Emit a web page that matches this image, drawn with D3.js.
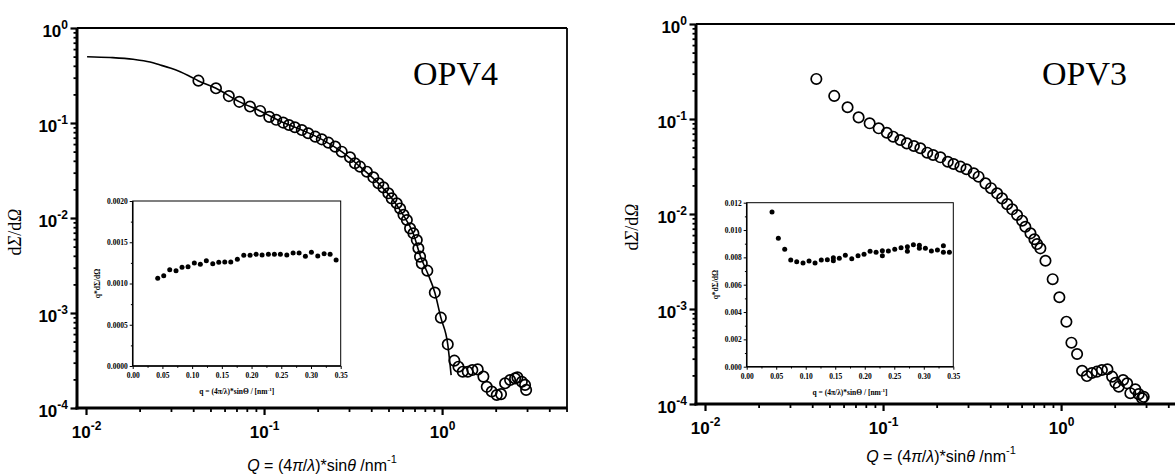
<!DOCTYPE html>
<html>
<head>
<meta charset="utf-8">
<script src="https://cdn.jsdelivr.net/npm/d3@7/dist/d3.min.js"></script>
<style>
  body { margin: 0; background: #fff; }
</style>
</head>
<body>
<div id="chart"></div>
<script>
// ---- OPV4 main scattering curve (Q in nm^-1, dSigma/dOmega)
var opv4Q = [0.0428, 0.0537, 0.0634, 0.0726, 0.0834, 0.0951, 0.107, 0.117, 0.128, 0.138,
  0.149, 0.163, 0.177, 0.194, 0.211, 0.230, 0.251, 0.273, 0.304, 0.324,
  0.346, 0.378, 0.411, 0.439, 0.468, 0.499, 0.521, 0.556, 0.581, 0.607,
  0.634, 0.661, 0.690, 0.721, 0.736, 0.752, 0.769, 0.826, 0.910, 0.984,
  1.076, 1.172, 1.236, 1.306, 1.393, 1.479, 1.585, 1.706, 1.782, 1.901,
  2.028, 2.143, 2.259, 2.410, 2.570, 2.649, 2.805, 2.924, 2.965]
var opv4I = [0.279, 0.232, 0.192, 0.167, 0.149, 0.134, 0.116, 0.108, 0.101, 0.0953,
  0.0902, 0.0843, 0.0780, 0.0718, 0.0673, 0.0621, 0.0564, 0.0499, 0.0436, 0.0377,
  0.0347, 0.0307, 0.0268, 0.0232, 0.0210, 0.0182, 0.0161, 0.0143, 0.0126, 0.0108,
  0.00953, 0.00778, 0.00690, 0.00586, 0.00480, 0.00392, 0.00333, 0.00279, 0.00164, 0.000893,
  0.000468, 0.000315, 0.000272, 0.000241, 0.000241, 0.000251, 0.000255, 0.000214, 0.000167, 0.000149,
  0.000137, 0.000140, 0.000182, 0.000197, 0.000205, 0.000210, 0.000189, 0.000175, 0.000155]

// fitted curve for OPV4
var opv4FitQ = [0.01014, 0.01365, 0.01837, 0.0229, 0.0261, 0.0297, 0.0338, 0.0384, 0.0426,
  0.0537, 0.0724, 0.0951, 0.128, 0.163, 0.211, 0.273, 0.346, 0.437, 0.521,
  0.604, 0.687, 0.762, 0.824, 0.910, 0.984, 1.076, 1.124]
var opv4FitI = [0.499, 0.489, 0.469, 0.439, 0.408, 0.379, 0.347, 0.309, 0.279,
  0.232, 0.168, 0.134, 0.101, 0.0843, 0.0673, 0.0499, 0.0347, 0.0234, 0.0161,
  0.0108, 0.00695, 0.00379, 0.00270, 0.00164, 0.000893, 0.000468, 0.000222]

// ---- OPV3 main scattering curve
var opv3Q = [0.0422, 0.0532, 0.0632, 0.0729, 0.0841, 0.0945, 0.105, 0.114, 0.125, 0.136,
  0.149, 0.162, 0.177, 0.191, 0.210, 0.231, 0.249, 0.272, 0.294, 0.323,
  0.344, 0.376, 0.404, 0.437, 0.466, 0.498, 0.531, 0.566, 0.604, 0.630,
  0.673, 0.708, 0.733, 0.765, 0.817, 0.897, 0.978, 1.071, 1.143, 1.230,
  1.312, 1.396, 1.489, 1.589, 1.695, 1.821, 1.935, 2.018, 2.108, 2.230,
  2.349, 2.449, 2.612, 2.729, 2.851, 2.911]
var opv3I = [0.264, 0.175, 0.133, 0.104, 0.0901, 0.0798, 0.0717, 0.0651, 0.0601, 0.0554,
  0.0520, 0.0492, 0.0442, 0.0418, 0.0395, 0.0355, 0.0336, 0.0315, 0.0296, 0.0268,
  0.0247, 0.0210, 0.0187, 0.0165, 0.0146, 0.0127, 0.0112, 0.00976, 0.00850, 0.00734,
  0.00626, 0.00542, 0.00483, 0.00435, 0.00322, 0.00206, 0.00133, 0.000735, 0.000442, 0.000336,
  0.000224, 0.000197, 0.000212, 0.000219, 0.000228, 0.000232, 0.000194, 0.000167, 0.000152, 0.000179,
  0.000165, 0.000130, 0.000143, 0.000127, 0.000115, 0.000119]

// ---- insets: q*dSigma/dOmega vs q
var inset4Q = [0.0421, 0.0522, 0.0623, 0.0729, 0.0830, 0.0931, 0.1037, 0.1138, 0.1239, 0.1347,
  0.1448, 0.1549, 0.1650, 0.1761, 0.1869, 0.1975, 0.2076, 0.2177, 0.2283, 0.2384,
  0.2485, 0.2593, 0.2699, 0.2800, 0.2906, 0.3007, 0.3114, 0.3221, 0.3322, 0.3423]
var inset4V = [0.001063, 0.001095, 0.001167, 0.001155, 0.001196, 0.001204, 0.001248, 0.001233, 0.001276, 0.001240,
  0.001257, 0.001261, 0.001261, 0.001293, 0.001342, 0.001342, 0.001354, 0.001345, 0.001354, 0.001354,
  0.001354, 0.001345, 0.001370, 0.001370, 0.001330, 0.001378, 0.001333, 0.001361, 0.001354, 0.001285]

var inset3Q = [0.0429, 0.0536, 0.0644, 0.0746, 0.0847, 0.0954, 0.1056, 0.1158, 0.1264, 0.1366,
  0.1468, 0.1468, 0.1569, 0.1671, 0.1780, 0.1886, 0.1988, 0.2090, 0.2192, 0.2298,
  0.2298, 0.2400, 0.2508, 0.2615, 0.2722, 0.2722, 0.2824, 0.2925, 0.2925, 0.3027,
  0.3129, 0.3231, 0.3332, 0.3332, 0.3434]
var inset3V = [0.01132, 0.00940, 0.00859, 0.00781, 0.00768, 0.00759, 0.00774, 0.00759, 0.00781, 0.00783,
  0.00798, 0.00776, 0.00793, 0.00815, 0.00790, 0.00812, 0.00823, 0.00845, 0.00837, 0.00849,
  0.00812, 0.00847, 0.00859, 0.00871, 0.00878, 0.00845, 0.00893, 0.00888, 0.00866, 0.00866,
  0.00847, 0.00854, 0.00885, 0.00837, 0.00837]

// ---- axis ticks
var qDomain = [0.0089, 5.03]
var iDomain = [1e-4, 1]
var qMajor = [0.01, 0.1, 1]
var iMajor = [1e-4, 1e-3, 1e-2, 1e-1, 1]
var insetXTicks = [0, 0.05, 0.10, 0.15, 0.20, 0.25, 0.30, 0.35]
var insetXMinor = [0.025, 0.075, 0.125, 0.175, 0.225, 0.275, 0.325]
var inset4YTicks = [0, 0.0005, 0.0010, 0.0015, 0.0020]
var inset4YMinor = [0.00025, 0.00075, 0.00125, 0.00175]
var inset3YTicks = [0, 0.002, 0.004, 0.006, 0.008, 0.010, 0.012]
var inset3YMinor = [0.001, 0.003, 0.005, 0.007, 0.009, 0.011]

var SANS = '"Liberation Sans", Arial, sans-serif'
var SERIF = '"Liberation Serif", "Times New Roman", serif'

var svg = d3.select('#chart').append('svg')
  .attr('width', 1175)
  .attr('height', 475)
  .style('display', 'block')

function logMinors(domain) {
  var out = []
  for (var e = -5; e <= 1; e++) {
    for (var m = 2; m <= 9; m++) {
      var v = m * Math.pow(10, e)
      if (v > domain[0] * 1.02 && v < domain[1]) out.push(v)
    }
  }
  return out
}

function powLabels(sel) {
  sel.selectAll('.tick text').each(function (d) {
    var t = d3.select(this)
    t.text(null)
    t.append('tspan').text('10')
    t.append('tspan').attr('font-size', 12).attr('dy', -8).text(Math.round(Math.log10(d)))
  })
}

function drawPanel(p) {
  var g = svg.append('g').attr('transform', 'translate(' + p.left + ',' + p.top + ')')
  var x = d3.scaleLog().domain(qDomain).range([0, p.w])
  var y = d3.scaleLog().domain(iDomain).range([p.h, 0])

  // minor ticks
  g.append('g').attr('transform', 'translate(0,' + p.h + ')')
    .call(d3.axisBottom(x).tickValues(logMinors(qDomain)).tickSize(4).tickFormat(function () { return '' }))
    .call(function (a) { a.select('.domain').remove(); a.selectAll('line').attr('stroke-width', 1.8) })
  g.append('g')
    .call(d3.axisLeft(y).tickValues(logMinors(iDomain)).tickSize(3.5).tickFormat(function () { return '' }))
    .call(function (a) { a.select('.domain').remove(); a.selectAll('line').attr('stroke-width', 1.8) })

  // major ticks + labels
  var xa = g.append('g').attr('transform', 'translate(0,' + p.h + ')')
    .call(d3.axisBottom(x).tickValues(qMajor).tickSize(7).tickFormat(function () { return '' }))
  xa.select('.domain').remove()
  xa.selectAll('line').attr('stroke-width', 2.2)
  xa.selectAll('text').attr('y', 30).attr('dy', null)
  powLabels(xa)

  var ya = g.append('g')
    .call(d3.axisLeft(y).tickValues(iMajor).tickSize(6.5).tickFormat(function () { return '' }))
  ya.select('.domain').remove()
  ya.selectAll('line').attr('stroke-width', 2.2)
  ya.selectAll('text').attr('x', -9).attr('y', 8).attr('dy', null)
  powLabels(ya)

  xa.selectAll('text').attr('font-family', SANS).attr('font-weight', 'bold').attr('font-size', 17).attr('fill', '#000')
  ya.selectAll('text').attr('font-family', SANS).attr('font-weight', 'bold').attr('font-size', 17).attr('fill', '#000')

  // frame
  g.append('line').attr('x1', 0).attr('x2', p.w).attr('y1', 0).attr('y2', 0).attr('stroke', '#000').attr('stroke-width', 1.8)
  g.append('line').attr('x1', p.w).attr('x2', p.w).attr('y1', 0).attr('y2', p.h).attr('stroke', '#000').attr('stroke-width', 1.8)
  g.append('line').attr('x1', -1.5).attr('x2', p.w).attr('y1', p.h).attr('y2', p.h).attr('stroke', '#000').attr('stroke-width', 3)
  g.append('line').attr('x1', 0).attr('x2', 0).attr('y1', 0).attr('y2', p.h + 1.5).attr('stroke', '#000').attr('stroke-width', 3)

  // fit line
  if (p.fitQ) {
    var line = d3.line()
      .x(function (d) { return x(d[0]) })
      .y(function (d) { return y(d[1]) })
      .curve(d3.curveMonotoneX)
    g.append('path')
      .datum(d3.zip(p.fitQ, p.fitI))
      .attr('d', line)
      .attr('fill', 'none')
      .attr('stroke', '#000')
      .attr('stroke-width', 1.6)
  }

  // data circles
  g.append('g').selectAll('circle')
    .data(d3.zip(p.q, p.i))
    .enter().append('circle')
    .attr('cx', function (d) { return x(d[0]) })
    .attr('cy', function (d) { return y(d[1]) })
    .attr('r', 5.2)
    .attr('fill', 'none')
    .attr('stroke', '#000')
    .attr('stroke-width', 1.7)

  // axis titles
  var yl = svg.append('text')
    .attr('transform', 'translate(' + p.yLabelX + ',' + p.yLabelY + ') rotate(-90)')
    .attr('text-anchor', 'middle')
    .attr('font-family', SERIF)
    .attr('font-size', 18)
  yl.append('tspan').text('d')
  yl.append('tspan').attr('font-style', 'italic').text('Σ')
  yl.append('tspan').text('/d')
  yl.append('tspan').attr('font-style', 'italic').text('Ω')

  var xl = svg.append('text')
    .attr('x', p.left + p.xLabelCx)
    .attr('y', p.xLabelY)
    .attr('text-anchor', 'middle')
    .attr('font-family', SANS)
    .attr('font-size', 16)
  xl.append('tspan').attr('font-style', 'italic').text('Q')
  xl.append('tspan').text(' = (4')
  xl.append('tspan').attr('font-style', 'italic').text('π')
  xl.append('tspan').text('/')
  xl.append('tspan').attr('font-style', 'italic').text('λ')
  xl.append('tspan').text(')*sin')
  xl.append('tspan').attr('font-style', 'italic').text('θ')
  xl.append('tspan').text('  /nm')
  xl.append('tspan').attr('font-size', 11).attr('dy', -8).text('-1')

  svg.append('text')
    .attr('x', p.nameX)
    .attr('y', 85)
    .attr('font-family', SERIF)
    .attr('font-size', 34)
    .text(p.name)
}

function drawInset(p) {
  var g = svg.append('g').attr('transform', 'translate(' + p.left + ',' + p.top + ')')
  var x = d3.scaleLinear().domain([0, 0.35]).range([0, p.w])
  var y = d3.scaleLinear().domain([0, p.yTicks[p.yTicks.length - 1]]).range([p.h, 0])

  g.append('rect').attr('width', p.w).attr('height', p.h)
    .attr('fill', '#fff').attr('stroke', '#000').attr('stroke-width', 1)

  var fontIt = function (a) {
    a.select('.domain').remove()
    a.selectAll('line').attr('stroke-width', 1)
    a.selectAll('text').attr('font-family', SERIF).attr('font-weight', 'bold').attr('font-size', 7.5).attr('fill', '#000')
  }

  g.append('g').attr('transform', 'translate(0,' + p.h + ')')
    .call(d3.axisBottom(x).tickValues(insetXMinor).tickSize(1.8).tickFormat(function () { return '' }))
    .call(fontIt)
  var xa = g.append('g').attr('transform', 'translate(0,' + p.h + ')')
    .call(d3.axisBottom(x).tickValues(insetXTicks).tickSize(3).tickFormat(d3.format('.2f')))
    .call(fontIt)
  xa.selectAll('text').attr('y', 12).attr('dy', null)

  g.append('g')
    .call(d3.axisLeft(y).tickValues(p.yMinor).tickSize(1.8).tickFormat(function () { return '' }))
    .call(fontIt)
  var ya = g.append('g')
    .call(d3.axisLeft(y).tickValues(p.yTicks).tickSize(3).tickFormat(d3.format(p.yFmt)))
    .call(fontIt)
  ya.selectAll('text').attr('x', -5)

  g.append('line').attr('x1', 0).attr('x2', 0).attr('y1', 0).attr('y2', p.h).attr('stroke', '#000').attr('stroke-width', 1.5)
  g.append('line').attr('x1', 0).attr('x2', p.w).attr('y1', p.h).attr('y2', p.h).attr('stroke', '#000').attr('stroke-width', 1.5)

  g.append('g').selectAll('circle')
    .data(d3.zip(p.q, p.v))
    .enter().append('circle')
    .attr('cx', function (d) { return x(d[0]) })
    .attr('cy', function (d) { return y(d[1]) })
    .attr('r', 2.5)
    .attr('fill', '#000')

  var xl = g.append('text')
    .attr('x', p.w / 2)
    .attr('y', p.h + 28)
    .attr('text-anchor', 'middle')
    .attr('font-family', SERIF)
    .attr('font-weight', 'bold')
    .attr('font-size', 7.5)
  xl.append('tspan').text('q = (4π/λ)*sinΘ  /  [nm')
  xl.append('tspan').attr('font-size', 5).attr('dy', -3).text('-1')
  xl.append('tspan').attr('dy', 3).text(']')

  g.append('text')
    .attr('transform', 'translate(' + p.yLabelDx + ',' + (p.h / 2) + ') rotate(-90)')
    .attr('text-anchor', 'middle')
    .attr('font-family', SERIF)
    .attr('font-weight', 'bold')
    .attr('font-size', 7.5)
    .text('q*dΣ/dΩ')
}

drawPanel({
  left: 77, top: 28, w: 490, h: 380,
  q: opv4Q, i: opv4I, fitQ: opv4FitQ, fitI: opv4FitI,
  yLabelX: 21, yLabelY: 232, xLabelCx: 245, xLabelY: 471,
  name: 'OPV4', nameX: 413
})
drawInset({
  left: 132.7, top: 201, w: 208, h: 165,
  q: inset4Q, v: inset4V,
  yTicks: inset4YTicks, yMinor: inset4YMinor, yFmt: '.4f', yLabelDx: -33
})

drawPanel({
  left: 696, top: 24, w: 490, h: 380,
  q: opv3Q, i: opv3I,
  yLabelX: 638, yLabelY: 227, xLabelCx: 245, xLabelY: 462,
  name: 'OPV3', nameX: 1042
})
drawInset({
  left: 746.7, top: 202.7, w: 206.6, h: 164,
  q: inset3Q, v: inset3V,
  yTicks: inset3YTicks, yMinor: inset3YMinor, yFmt: '.3f', yLabelDx: -29
})
</script>
</body>
</html>
